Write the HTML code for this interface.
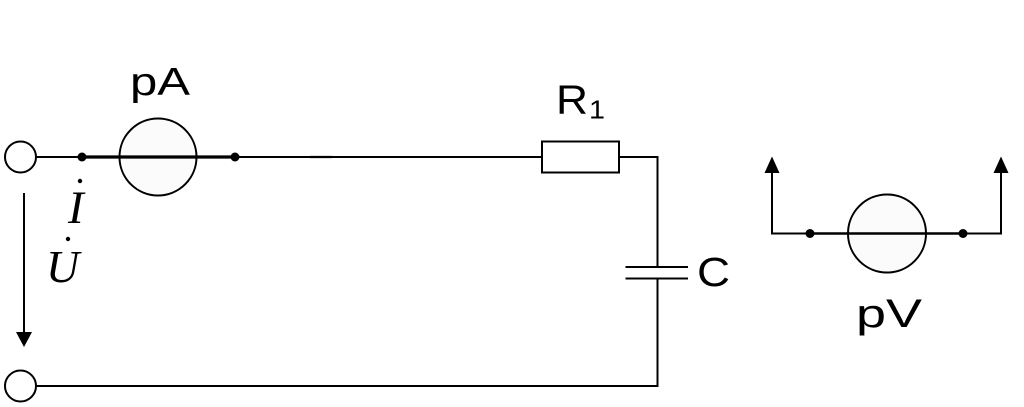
<!DOCTYPE html>
<html><head><meta charset="utf-8"><style>
html,body{margin:0;padding:0;background:#fff;}
svg{display:block;}
</style></head><body>
<svg width="1024" height="407" viewBox="0 0 1024 407" xmlns="http://www.w3.org/2000/svg">
<g stroke="#000" fill="none" stroke-width="2">
  <!-- terminals -->
  <circle cx="20.5" cy="157" r="15.5"/>
  <circle cx="20.5" cy="386" r="15.5"/>
  <!-- top wire -->
  <line x1="36" y1="157" x2="542" y2="157"/>
  <line x1="82" y1="157" x2="235" y2="157" stroke-width="3.2"/>
  <line x1="310" y1="157" x2="332" y2="157" stroke-width="2.3"/>
  <!-- ammeter -->
  <circle cx="158" cy="157" r="38.5" fill="#fbfbfb"/>
  <line x1="119" y1="157" x2="197" y2="157" stroke-width="3.2"/>
  <!-- resistor -->
  <rect x="542" y="141.5" width="77" height="31" fill="#fff"/>
  <polyline points="619,157 657.5,157 657.5,267"/>
  <!-- capacitor -->
  <line x1="625.5" y1="267" x2="688" y2="267"/>
  <line x1="625.5" y1="278.5" x2="688" y2="278.5"/>
  <polyline points="657.5,278.5 657.5,386 36,386"/>
  <!-- voltage arrow -->
  <line x1="24" y1="193" x2="24" y2="334"/>
  <!-- voltmeter -->
  <polyline points="772,170 772,233.5 1001,233.5 1001,170"/>
  <line x1="810" y1="233.5" x2="963" y2="233.5" stroke-width="2.4"/>
  <circle cx="887" cy="233.5" r="39" fill="#fbfbfb"/>
  <line x1="848" y1="233.5" x2="926" y2="233.5" stroke-width="2.4"/>
</g>
<g fill="#000" stroke="none">
  <circle cx="82" cy="157" r="4.5"/>
  <circle cx="235" cy="157" r="4.5"/>
  <circle cx="810" cy="233.5" r="4.5"/>
  <circle cx="963" cy="233.5" r="4.5"/>
  <polygon points="16,332 32,332 24,347"/>
  <polygon points="764.5,173 779.5,173 772,156.5"/>
  <polygon points="993.5,173 1008.5,173 1001,156.5"/>
  <circle cx="80" cy="181" r="2.2"/>
  <circle cx="68" cy="239" r="2.2"/>
</g>
<g font-family="'Liberation Sans', Arial, sans-serif" fill="#000">
  <text x="130" y="95" font-size="38.5" textLength="60" lengthAdjust="spacingAndGlyphs">pA</text>
  <text x="556" y="113.5" font-size="41" textLength="32" lengthAdjust="spacingAndGlyphs">R</text>
  <text x="589" y="118.5" font-size="26" textLength="16" lengthAdjust="spacingAndGlyphs">1</text>
  <text x="697" y="286" font-size="41" textLength="33" lengthAdjust="spacingAndGlyphs">C</text>
  <text x="856" y="327" font-size="39.5" textLength="66" lengthAdjust="spacingAndGlyphs">pV</text>
</g>
<g font-family="'Liberation Serif', 'Times New Roman', serif" font-style="italic" fill="#000">
  <text x="68" y="223" font-size="47">I</text>
  <text x="46" y="282" font-size="46">U</text>
</g>
</svg>
</body></html>
